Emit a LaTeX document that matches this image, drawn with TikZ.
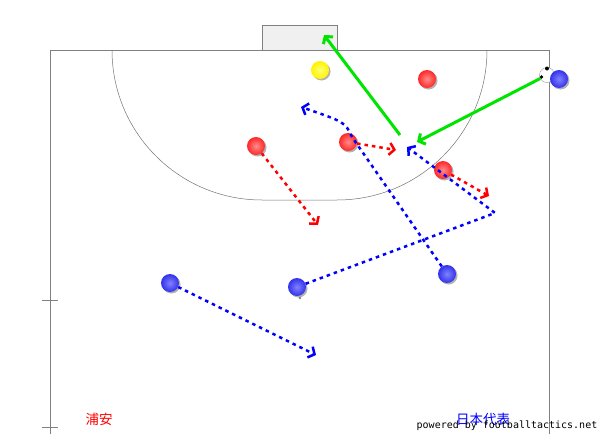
\documentclass[tikz,border=0pt]{standalone}
\usepackage{fontspec}
\newfontfamily\jpfont{Noto Sans CJK JP}
\newfontfamily\monofont{DejaVu Sans Mono}
\usetikzlibrary{arrows.meta,shadows}
\begin{document}
\begin{tikzpicture}[x=1pt,y=-1pt,
  fieldline/.style={draw=black!50, line width=0.8pt},
  arcline/.style={draw=black!55, line width=0.5pt},
  player/.style={circle, minimum size=18pt, inner sep=0pt,
     drop shadow={shadow xshift=1.5pt, shadow yshift=-1.5pt, opacity=0.3, fill=black}},
  redp/.style={player, inner color=red!45!white, outer color=red!85!white},
  bluep/.style={player, inner color={rgb,255:red,130;green,130;blue,255}, outer color={rgb,255:red,50;green,50;blue,235}},
  yellowp/.style={player, inner color=yellow!55!white, outer color=yellow!90!orange},
  tip/.style={-{Straight Barb[length=5pt,width=12pt]}},
  runred/.style={draw=red, line width=2.5pt, dash pattern=on 3.5pt off 4pt, tip},
  runblue/.style={draw=blue, line width=2.5pt, dash pattern=on 3.5pt off 4pt, tip},
  pass/.style={draw=green!90!black, line width=3pt, tip}]
\useasboundingbox (0,0) rectangle (600,434);
% field
\draw[fieldline] (50,434) -- (50,50) -- (549,50) -- (549,434);
\draw[fieldline, fill=black!6] (262,50) rectangle (337,25);
\draw[arcline] (112,50) arc[start angle=180, end angle=270, radius=150pt] -- (337,200)
  arc[start angle=270, end angle=360, radius=150pt];
\draw[fieldline] (42,300) -- (58,300);
\draw[fieldline] (42,427) -- (58,427);
% players
\node[yellowp] (gk) at (320,70) {};
\node[redp] (r1) at (427,79) {};
\node[redp] (r2) at (256,146) {};
\node[redp] (r3) at (348,142) {};
\node[redp] (r4) at (443,170) {};
\node[circle, draw=black!40, fill=white, minimum size=15pt, inner sep=0pt] (ball) at (547,75) {};
\fill[black] (547,68.5) circle (2pt);
\fill[black] (541.5,77) circle (1.8pt);
\fill[black] (552.5,77) circle (1.8pt);
\node[bluep] (b1) at (559,79) {};
\node[bluep] (b2) at (170,283) {};
\node[bluep] (b3) at (297,287) {};
\node[bluep] (b4) at (447,274) {};
\fill[black!50] (300,298) circle (1.3pt);
% runs
\draw[runred] (r2) -- (318,225);
\draw[runred] (r3) -- (396,150);
\draw[runred] (r4) -- (489,196);
\draw[runblue] (b4) -- (352,137) .. controls (345,122) .. (301,107);
\draw[runblue] (b3) -- (495,213) -- (407,147);
\draw[runblue] (b2) -- (316,355);
% passes
\coordinate (p0) at (400,135);
\draw[pass] (p0) -- (324,35);
\draw[pass] (ball) -- (417,142);
% texts
\node[text=red, font=\jpfont\fontsize{13.5}{14}\selectfont] (t1) at (99,419) {浦安};
\node[text=blue, font=\jpfont\fontsize{13.5}{14}\selectfont] (t2) at (483,419) {日本代表};
\node[font=\monofont\fontsize{10}{10}\selectfont, inner sep=0pt] (t3) at (507,426) {powered by footballtactics.net};
\end{tikzpicture}
\end{document}
